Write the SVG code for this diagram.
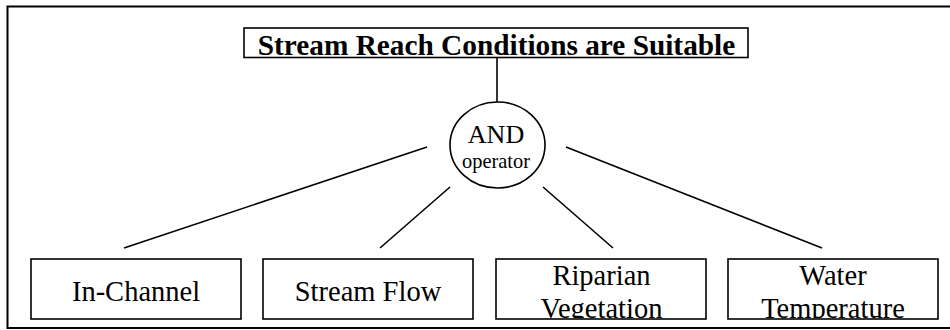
<svg xmlns="http://www.w3.org/2000/svg" width="950" height="330" viewBox="0 0 950 330">
<style>
.frame{fill:none;stroke:#000;stroke-width:2}
.box{fill:#fff;stroke:#000;stroke-width:1.6}
.conn line{stroke:#000;stroke-width:1.6}
.t{font-family:"Liberation Serif","Times New Roman",serif;fill:#000;text-anchor:middle}
.lbl{font-size:28.5px}
</style>
<defs>
<clipPath id="c3"><rect x="497" y="260" width="208" height="58"/></clipPath>
<clipPath id="c4"><rect x="729" y="260" width="208" height="58"/></clipPath>
</defs>
<rect x="0" y="0" width="950" height="330" fill="#fff"/>
<rect class="frame" x="7.5" y="6.5" width="960" height="321.5"/>
<g class="conn">
<line x1="497" y1="58" x2="497" y2="102"/>
<line x1="427" y1="147" x2="124" y2="248"/>
<line x1="450" y1="187" x2="380" y2="248"/>
<line x1="543" y1="187" x2="613" y2="248"/>
<line x1="566" y1="147" x2="822" y2="248"/>
</g>
<g id="goal">
<rect class="box" x="244" y="28" width="504" height="29.5" stroke-width="2"/>
<text class="t" x="496.5" y="55" font-size="29.3" font-weight="bold">Stream Reach Conditions are Suitable</text>
</g>
<g id="and">
<ellipse cx="497.5" cy="145" rx="47.5" ry="43" fill="#fff" stroke="#000" stroke-width="1.6"/>
<text class="t" x="496" y="143" font-size="26">AND</text>
<text class="t" x="496" y="168" font-size="20.4">operator</text>
</g>
<g id="inchannel">
<rect class="box" x="31" y="259" width="210" height="60"/>
<text class="t lbl" x="136" y="301">In-Channel</text>
</g>
<g id="streamflow">
<rect class="box" x="263" y="259" width="210" height="60"/>
<text class="t lbl" x="368" y="301">Stream Flow</text>
</g>
<g id="riparian">
<rect class="box" x="496" y="259" width="210" height="60"/>
<g clip-path="url(#c3)">
<text class="t lbl" x="601.5" y="285">Riparian</text>
<text class="t lbl" x="601.5" y="318">Vegetation</text>
</g>
</g>
<g id="water">
<rect class="box" x="728" y="259" width="210" height="60"/>
<g clip-path="url(#c4)">
<text class="t lbl" x="833" y="285">Water</text>
<text class="t lbl" x="833" y="318">Temperature</text>
</g>
</g>
</svg>
